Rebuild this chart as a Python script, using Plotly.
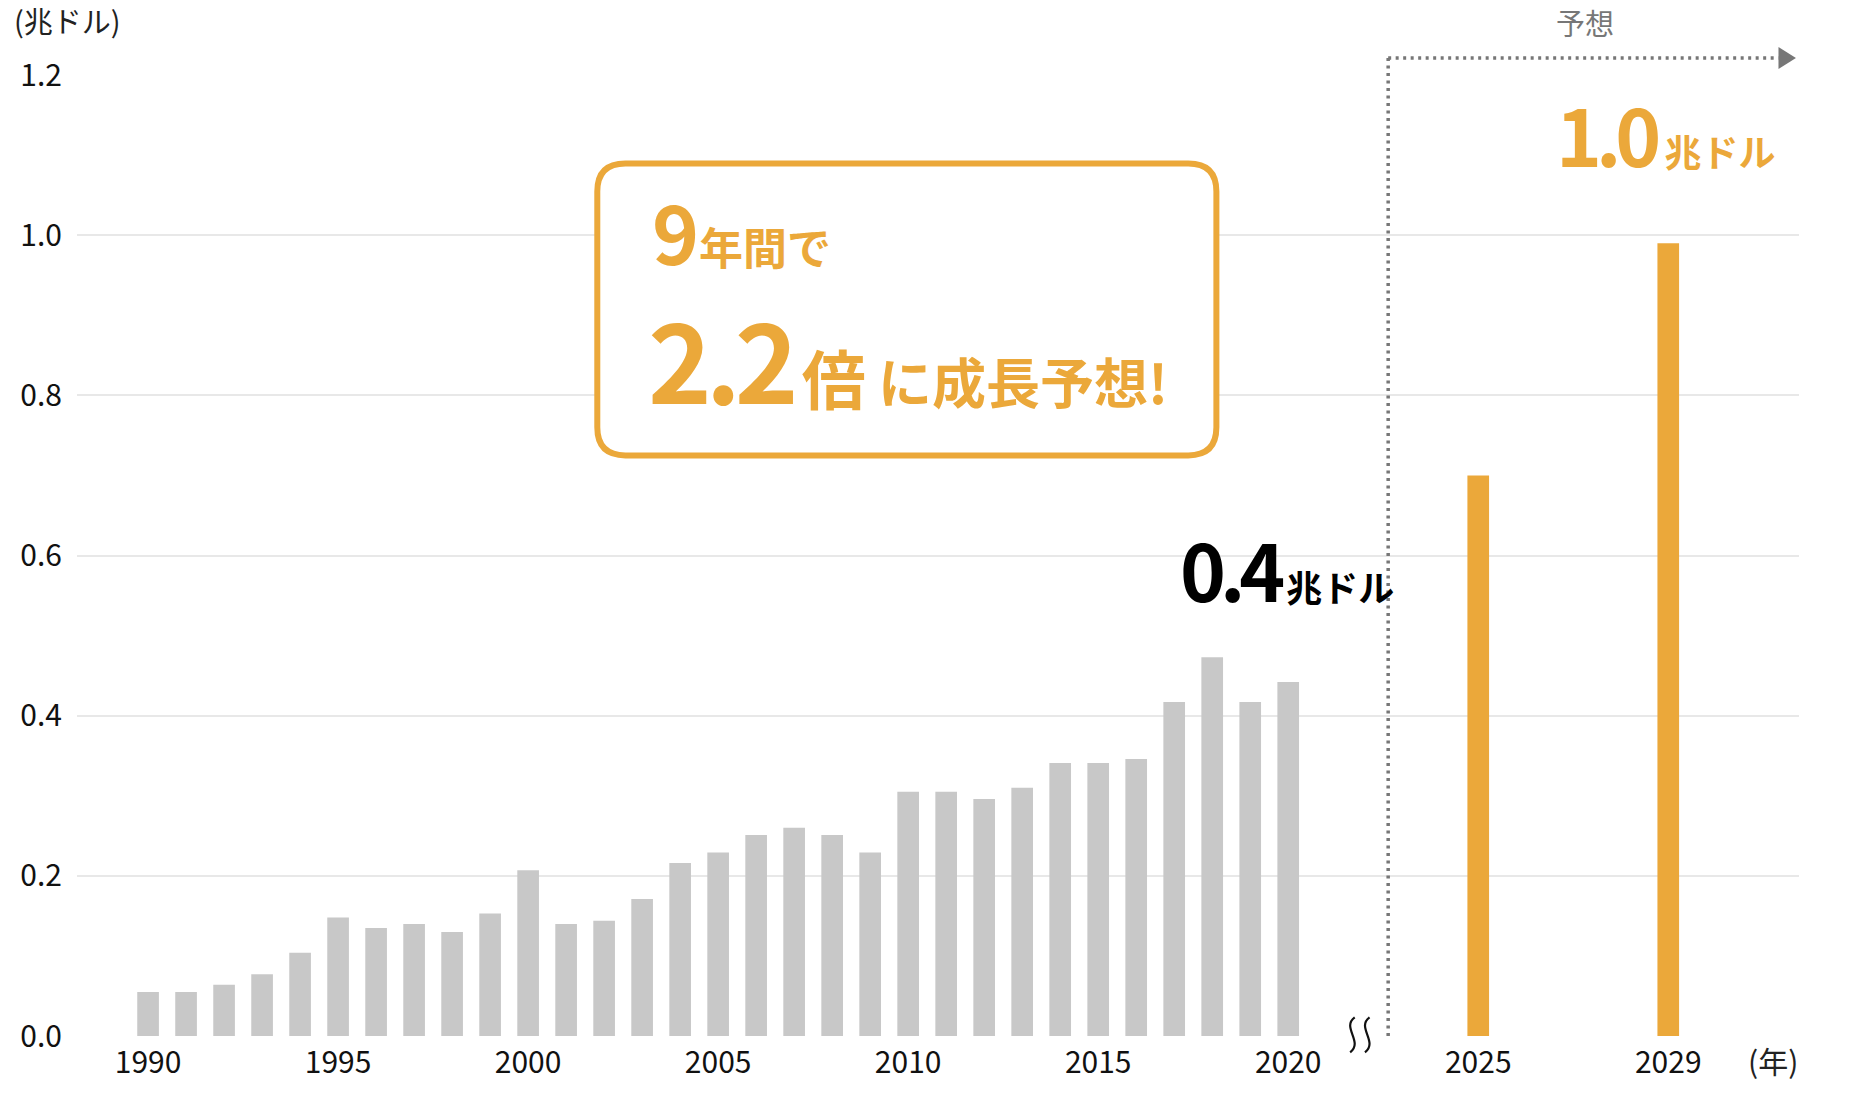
import plotly.graph_objects as go

# actual values 1990-2020 (trillion USD)
years = list(range(1990, 2021))
values = [0.055, 0.055, 0.064, 0.077, 0.104, 0.148, 0.135, 0.140, 0.130, 0.153,
          0.207, 0.140, 0.144, 0.171, 0.216, 0.229, 0.251, 0.260, 0.251, 0.229,
          0.305, 0.305, 0.296, 0.310, 0.341, 0.341, 0.346, 0.417, 0.473, 0.417, 0.442]

# forecast; 2029 sits one slot to the right (axis is broken after 2020)
forecast_labels = ["2025", "2029"]
forecast_slots = [2025, 2030]
forecast_values = [0.70, 0.99]

tick_vals = [1990, 1995, 2000, 2005, 2010, 2015, 2020] + forecast_slots
tick_text = [str(y) for y in tick_vals[:7]] + forecast_labels

FONT = "Noto Sans CJK JP"
GRAY_BAR = "#c8c8c8"
ORANGE = "#eba83a"
DOT_GRAY = "#777777"

fig = go.Figure()
fig.add_trace(go.Bar(x=years, y=values, width=0.57, marker_color=GRAY_BAR,
                     marker_line_width=0, hoverinfo="skip"))
fig.add_trace(go.Bar(x=forecast_slots, y=forecast_values, width=0.57,
                     marker_color=ORANGE, marker_line_width=0,
                     text=forecast_labels, hoverinfo="skip", textposition="none"))

# forecast marker: dotted bracket with arrow head
split_x = 2022.63
top_y = 1.0177
fig.add_shape(type="line", xref="x", yref="paper", x0=split_x, x1=split_x,
              y0=0, y1=top_y, line=dict(color=DOT_GRAY, width=3.5, dash="3px,4.5px"))
fig.add_shape(type="line", xref="x", yref="paper", x0=split_x, x1=2032.9,
              y0=top_y, y1=top_y, line=dict(color=DOT_GRAY, width=3.5, dash="3px,4.5px"))
fig.add_shape(type="path", xref="x", yref="paper",
              path=f"M 2032.9,{top_y + 0.0115} L 2033.36,{top_y} L 2032.9,{top_y - 0.0115} Z",
              fillcolor=DOT_GRAY, line_width=0)

# axis break squiggles
for cx in [2021.69, 2022.08]:
    fig.add_shape(type="path", xref="x", yref="paper",
                  path=(f"M {cx + 0.06},0.0195 C {cx - 0.3},0.009 "
                        f"{cx + 0.3},-0.006 {cx - 0.06},-0.017"),
                  line=dict(color="#111111", width=2.2))

# rounded callout box
bx0, bx1, by0, by1 = 2001.82, 2018.11, 0.725, 1.0895
rx, ry = 0.74, 0.035
box_path = (f"M {bx0 + rx},{by1} L {bx1 - rx},{by1} Q {bx1},{by1} {bx1},{by1 - ry} "
            f"L {bx1},{by0 + ry} Q {bx1},{by0} {bx1 - rx},{by0} "
            f"L {bx0 + rx},{by0} Q {bx0},{by0} {bx0},{by0 + ry} "
            f"L {bx0},{by1 - ry} Q {bx0},{by1} {bx0 + rx},{by1} Z")
fig.add_shape(type="path", xref="x", yref="y", path=box_path,
              fillcolor="white", line=dict(color=ORANGE, width=6), layer="above")


def big(num, size, unit, usize, gap, ls=-6):
    return (f"<span style='font-size:{size}px;letter-spacing:{ls}px'>{num}</span>"
            f"<span style='font-size:{gap}px'> </span>"
            f"<span style='font-size:{usize}px'>{unit}</span>")


annotations = [
    dict(text="(兆ドル)", xref="paper", yref="paper", x=-0.038, y=1.0574,
         xanchor="left", yanchor="middle", font=dict(size=29, color="#222")),
    dict(text="(年)", xref="x", yref="paper", x=2032.75, y=-0.0253,
         xanchor="center", yanchor="middle", font=dict(size=30, color="#222")),
    dict(text="予想", xref="x", yref="paper", x=2027.81, y=1.0548,
         xanchor="center", yanchor="middle", font=dict(size=29, color="#777")),
    dict(text=big("1.0", 78, "兆ドル", 37, 40),
         xref="x", yref="y", x=2032.85, y=1.0556, xanchor="right", yanchor="bottom",
         font=dict(size=37, color=ORANGE, weight="bold")),
    dict(text=big("0.4", 78, "兆ドル", 36, 30),
         xref="x", yref="y", x=2017.09, y=0.5115, xanchor="left", yanchor="bottom",
         font=dict(size=36, color="#000", weight="bold")),
    dict(text=big("9", 80, "年間で", 44, 26),
         xref="x", yref="y", x=2003.22, y=0.931, xanchor="left", yanchor="bottom",
         font=dict(size=44, color=ORANGE, weight="bold")),
    dict(text=big("2.2", 108, "倍", 64, 40)
         + "<span style='font-size:54px'> に成長予想!</span>",
         xref="x", yref="y", x=2003.11, y=0.7474, xanchor="left", yanchor="bottom",
         font=dict(size=54, color=ORANGE, weight="bold")),
]
for a in annotations:
    a["showarrow"] = False

fig.update_layout(
    width=1858, height=1111,
    margin=dict(l=77, r=59, t=75, b=75, pad=0),
    paper_bgcolor="white", plot_bgcolor="white",
    showlegend=False, barmode="overlay",
    font=dict(family=FONT, color="#111"),
    annotations=annotations,
)
fig.update_xaxes(range=[1988.13, 2033.44], tickmode="array", tickvals=tick_vals,
                 ticktext=tick_text, showgrid=False, zeroline=False, showline=False,
                 ticks="", ticklabelstandoff=6, tickfont=dict(size=30, color="#111"))
fig.update_yaxes(range=[0, 1.2], dtick=0.2, tickformat=".1f", gridcolor="#e8e8e8",
                 gridwidth=2, zeroline=False, showline=False, ticks="",
                 ticklabelstandoff=14, tickfont=dict(size=30, color="#111"))

fig.write_html("out.html", config={"displayModeBar": False},
               post_script="document.body.style.margin='0';")
